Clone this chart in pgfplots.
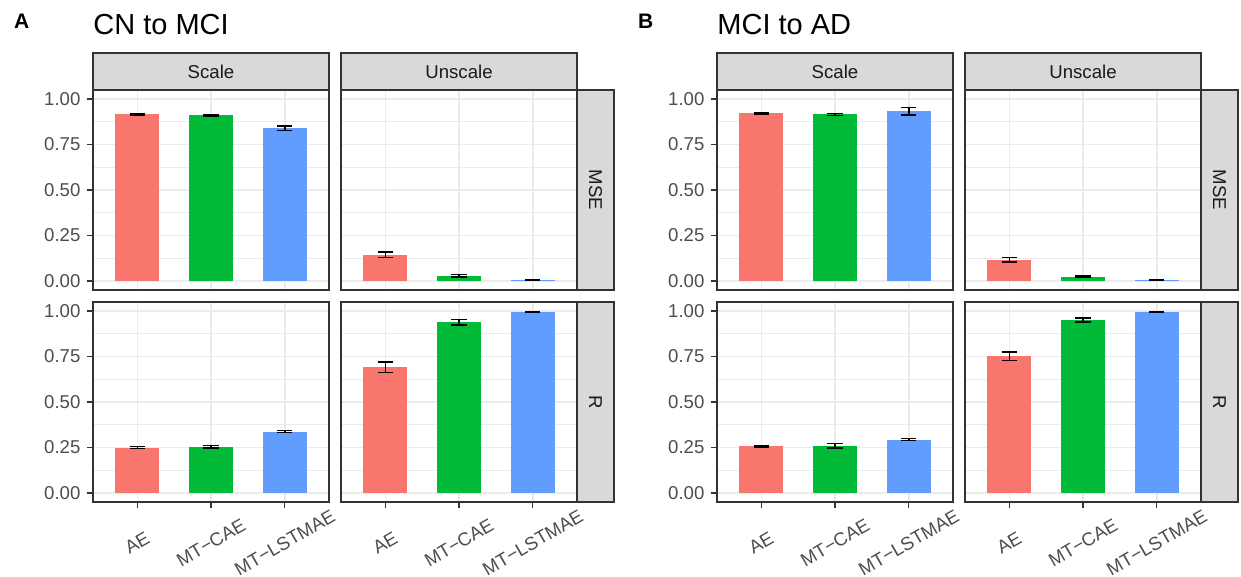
\documentclass[border=0pt]{standalone}
\usepackage{pgfplots}
\pgfplotsset{compat=1.18}
\usepackage{fontspec}
\setmainfont{Liberation Sans}
\definecolor{cAE}{HTML}{F8766D}
\definecolor{cCAE}{HTML}{00BA38}
\definecolor{cLST}{HTML}{619CFF}
\definecolor{gridc}{HTML}{EBEBEB}
\definecolor{g20}{HTML}{333333}
\definecolor{g30}{HTML}{4D4D4D}
\definecolor{stripc}{HTML}{D9D9D9}
\definecolor{g10}{HTML}{1A1A1A}
\newcommand\tfont{\fontsize{9.3}{11}\selectfont}
\pgfplotsset{
  panel/.style={
    scale only axis, width=118pt, height=100pt,
    xmin=0.4, xmax=3.6, ymin=-0.05, ymax=1.05,
    xtick={1,2,3}, ytick={0,0.25,0.5,0.75,1},
    minor ytick={0.125,0.375,0.625,0.875},
    grid=both,
    major grid style={draw=gridc, line width=0.75pt},
    minor grid style={draw=gridc, line width=0.45pt},
    axis line style={draw=g20, line width=0.67pt},
    tick style={draw=g20, line width=0.65pt},
    major tick length=3.2pt, minor tick length=0pt,
    tick align=outside, tick pos=left,
    ybar, bar width=0.6,
    ticklabel style={font=\tfont, text=g30},
    yticklabel style={inner sep=0pt, xshift=-2.9pt},
    anchor=north west,
  },
  toprow/.style={xticklabels={,,}, xtick style={draw=none}},
  botrow/.style={xticklabels={AE,MT−CAE,MT−LSTMAE},
    xticklabel style={inner sep=0pt, yshift=-17.1pt, rotate=30, anchor=center}},
  leftcol/.style={yticklabels={0.00,0.25,0.50,0.75,1.00}},
  rightcol/.style={yticklabels={,,,,}, ytick style={draw=none}},
  ebar/.style={draw=none, bar shift=0pt,
    error bars/.cd, y dir=both, y explicit,
    error bar style={draw=black, line width=0.75pt},
    error mark options={rotate=90, draw=black, mark size=3.8pt, line width=0.75pt}},
}
\newcommand\threebars[6]{%
  \addplot[fill=cAE, ebar] coordinates {(1,#1) +- (0,#2)};
  \addplot[fill=cCAE, ebar] coordinates {(2,#3) +- (0,#4)};
  \addplot[fill=cLST, ebar] coordinates {(3,#5) +- (0,#6)};
}
\begin{document}
\begin{tikzpicture}
\useasboundingbox (0,0) rectangle (620.5pt,-288.5pt);
% ---------- A ----------
\begin{axis}[panel, toprow, leftcol, at={(46.5pt,-45pt)}]
\threebars{0.917}{0.004}{0.911}{0.004}{0.840}{0.012}
\end{axis}
\begin{axis}[panel, toprow, rightcol, at={(170.5pt,-45pt)}]
\threebars{0.144}{0.016}{0.028}{0.007}{0.004}{0.002}
\end{axis}
\begin{axis}[panel, botrow, leftcol, at={(46.5pt,-151pt)}]
\threebars{0.249}{0.005}{0.255}{0.007}{0.337}{0.005}
\end{axis}
\begin{axis}[panel, botrow, rightcol, at={(170.5pt,-151pt)}]
\threebars{0.691}{0.028}{0.939}{0.015}{0.994}{0.002}
\end{axis}
% ---------- B ----------
\begin{axis}[panel, toprow, leftcol, at={(358.5pt,-45pt)}]
\threebars{0.923}{0.004}{0.916}{0.005}{0.934}{0.021}
\end{axis}
\begin{axis}[panel, toprow, rightcol, at={(482.5pt,-45pt)}]
\threebars{0.116}{0.012}{0.022}{0.004}{0.004}{0.002}
\end{axis}
\begin{axis}[panel, botrow, leftcol, at={(358.5pt,-151pt)}]
\threebars{0.256}{0.004}{0.260}{0.012}{0.293}{0.006}
\end{axis}
\begin{axis}[panel, botrow, rightcol, at={(482.5pt,-151pt)}]
\threebars{0.751}{0.024}{0.950}{0.011}{0.996}{0.002}
\end{axis}
% ---------- strips ----------
\tikzset{strip/.style={fill=stripc, draw=g20, line width=0.67pt},
  striptext/.style={font=\tfont, text=g10, inner sep=0pt}}
\foreach \x in {46.5,170.5,358.5,482.5}{
  \draw[strip] (\x pt,-26.5pt) rectangle (\x pt+118pt,-45pt);
}
\foreach \x in {288.5,600.5}{
  \draw[strip] (\x pt,-45pt) rectangle (\x pt+18.5pt,-145pt);
  \draw[strip] (\x pt,-151pt) rectangle (\x pt+18.5pt,-251pt);
}
\node[striptext, anchor=base] at (105.5pt,-39.5pt) {Scale};
\node[striptext, anchor=base] at (229.5pt,-39.5pt) {Unscale};
\node[striptext, anchor=base] at (417.5pt,-39.5pt) {Scale};
\node[striptext, anchor=base] at (541.5pt,-39.5pt) {Unscale};
\node[striptext, rotate=-90] at (297.75pt,-95pt) {MSE};
\node[striptext, rotate=-90] at (297.75pt,-201pt) {R};
\node[striptext, rotate=-90] at (609.75pt,-95pt) {MSE};
\node[striptext, rotate=-90] at (609.75pt,-201pt) {R};
% ---------- titles ----------
\node[anchor=base west, inner sep=0pt, font=\bfseries\fontsize{10.5}{12}\selectfont] at (6.9pt,-14.15pt) {A};
\node[anchor=base west, inner sep=0pt, font=\fontsize{14.5}{17}\selectfont] at (46.5pt,-17.5pt) {CN to MCI};
\node[anchor=base west, inner sep=0pt, font=\bfseries\fontsize{10.5}{12}\selectfont] at (318.9pt,-14.15pt) {B};
\node[anchor=base west, inner sep=0pt, font=\fontsize{14.5}{17}\selectfont] at (358.5pt,-17.5pt) {MCI to AD};
\end{tikzpicture}
\end{document}
